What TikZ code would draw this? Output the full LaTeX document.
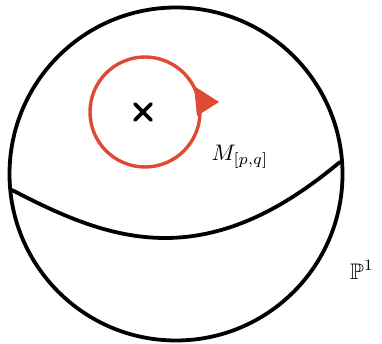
\documentclass[tikz,border=0pt]{standalone}
\usepackage{amssymb}
\definecolor{loopred}{RGB}{222,74,52}
\begin{document}
\begin{tikzpicture}[x=1pt,y=-1pt,
  blackline/.style={line width=3.8pt,black},
  redline/.style={line width=3.4pt,loopred},
  lbl/.style={inner sep=0pt}]
\useasboundingbox (0,0) rectangle (382,344);
% sphere
\draw[blackline] (176,174) circle[radius=166.5];
% equator
\draw[blackline,line cap=round] (12,190) .. controls (60,215) and (110,238) .. (165,238)
  .. controls (240,238) and (300,195) .. (340,162);
% red loop
\draw[redline] (145,112) circle[radius=55];
\fill[loopred] (194,86) -- (219,102) -- (197,116) -- cycle;
% cross
\node (x) at (143,112) {};
\draw[line width=3.6pt,line cap=round] (135,104) -- (151,120) (151,104) -- (135,120);
% labels
\node[lbl] (m) at (240,157) {\scalebox{2.25}{$M_{[p,q]}$}};
\node[lbl] (p) at (362,270) {\scalebox{2.25}{$\mathbb{P}^1$}};
\end{tikzpicture}
\end{document}
